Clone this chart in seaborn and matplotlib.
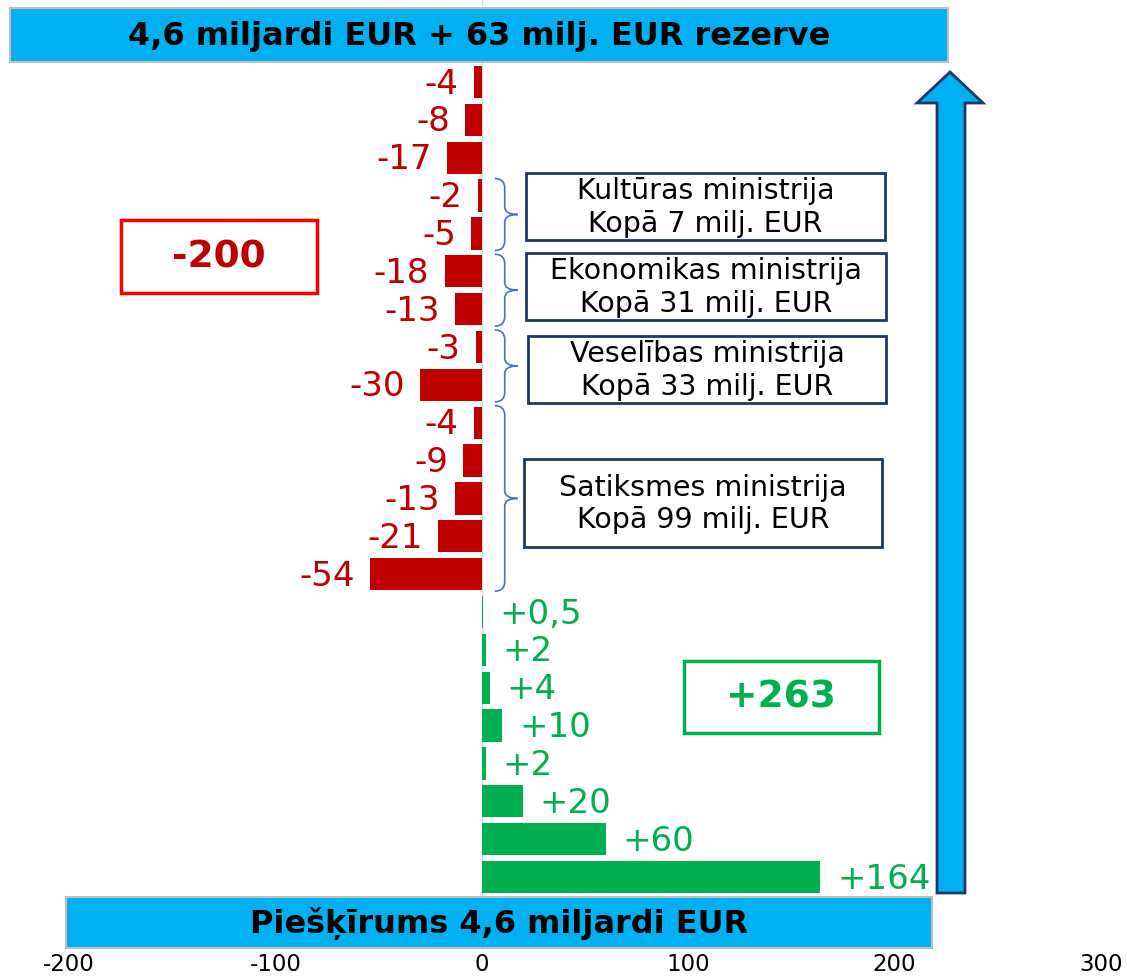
import numpy as np
import pandas as pd
import matplotlib
matplotlib.use("Agg")
import matplotlib.pyplot as plt
import seaborn as sns
from matplotlib.patches import Rectangle, Polygon, PathPatch
from matplotlib.path import Path
from matplotlib.transforms import Affine2D

sns.set_style("white")
plt.rcParams["font.family"] = ["DejaVu Sans"]
plt.rcParams["text.color"] = "black"
plt.rcParams["xtick.color"] = "black"

# =========================
# DATA
# =========================
values = [-4, -8, -17, -2, -5, -18, -13, -3, -30, -4, -9, -13, -21, -54,
          0.5, 2, 4, 10, 2, 20, 60, 164]
labels = ["-4", "-8", "-17", "-2", "-5", "-18", "-13", "-3", "-30", "-4", "-9",
          "-13", "-21", "-54", "+0,5", "+2", "+4", "+10", "+2", "+20", "+60", "+164"]
x_ticks = [-200, -100, 0, 100, 200, 300]

groups = [("Kultūras ministrija\nKopā 7 milj. EUR", 3, 4),
          ("Ekonomikas ministrija\nKopā 31 milj. EUR", 5, 6),
          ("Veselības ministrija\nKopā 33 milj. EUR", 7, 8),
          ("Satiksmes ministrija\nKopā 99 milj. EUR", 9, 13)]

top_title = "4,6 miljardi EUR + 63 milj. EUR rezerve"
bottom_title = "Piešķīrums 4,6 miljardi EUR"
total_neg = "-200"
total_pos = "+263"

RED = "#C00000"
GREEN = "#00B050"
BLUE = "#00B0F0"
NAVY = "#1F3864"

df = pd.DataFrame({
    "item": [str(i) for i in range(len(values))],
    "value": values,
    "sign": ["neg" if v < 0 else "pos" for v in values],
})

# =========================
# FIGURE
# =========================
W, H = 1127, 976
fig = plt.figure(figsize=(W / 100, H / 100), dpi=100)
ax = fig.add_axes([69 / W, 1 - 950 / H, (1101 - 69) / W, 950 / H])

# pixel coords from the top-left corner of the figure
px = Affine2D().scale(1 / W, -1 / H).translate(0, 1) + fig.transFigure

sns.barplot(data=df, x="value", y="item", hue="sign",
            palette={"neg": RED, "pos": GREEN}, dodge=False,
            width=0.85, legend=False, ax=ax, saturation=1, linewidth=0)

ax.set_xlim(-200, 300)
step = (877 - 82) / 21
ax.set_ylim((950 - 82) / step, -82 / step)
ax.set_xticks(x_ticks)
ax.set_xticklabels([str(t) for t in x_ticks], fontsize=16.5)
ax.set_yticks([])
ax.set_xlabel("")
ax.set_ylabel("")
ax.tick_params(axis="x", length=0, pad=2.5)
for s in ax.spines.values():
    s.set_visible(False)
ax.axvline(0, color="#D9D9D9", lw=1, zorder=0)

# value labels
for i, (v, lab) in enumerate(zip(values, labels)):
    if v < 0:
        ax.annotate(lab, (v, i), xytext=(-11, -1.5), textcoords="offset points",
                    ha="right", va="center", color=RED, fontsize=24.5)
    else:
        ax.annotate(lab, (v, i), xytext=(12, -1.5), textcoords="offset points",
                    ha="left", va="center", color=GREEN, fontsize=24.5)

# braces for ministry groups
for name, i0, i1 in groups:
    top = i0 - 0.45
    bot = i1 + 0.45
    mid = (top + bot) / 2
    x0, x1, x2 = 6.3, 11.1, 17.4
    verts = [(x0, top), (x1, top), (x1, top + 0.25),
             (x1, mid - 0.2), (x1, mid), (x2, mid),
             (x1, mid), (x1, mid + 0.2),
             (x1, bot - 0.25), (x1, bot), (x0, bot)]
    codes = [Path.MOVETO, Path.CURVE3, Path.CURVE3,
             Path.LINETO, Path.CURVE3, Path.CURVE3,
             Path.CURVE3, Path.CURVE3,
             Path.LINETO, Path.CURVE3, Path.CURVE3]
    ax.add_patch(PathPatch(Path(verts, codes), fill=False, ec="#4472C4", lw=1.2))

# ministry boxes (pixel coords)
boxes = [(526, 173, 885, 240), (526, 253, 886, 320),
         (528, 336, 886, 403), (524, 459, 882, 547)]
for (name, _, _), (l, t, r, b) in zip(groups, boxes):
    fig.patches.append(Rectangle((l, t), r - l, b - t, transform=px,
                                 fc="white", ec=NAVY, lw=2))
    fig.text((l + r) / 2, (t + b) / 2 + 1, name, transform=px, ha="center",
             va="center", fontsize=20.5, linespacing=1.2)

# total boxes
fig.patches.append(Rectangle((121, 220), 196, 73, transform=px,
                             fc="white", ec="#FF0000", lw=2.5))
fig.text(219, 257, total_neg, transform=px, ha="center", va="center",
         fontsize=27, fontweight="bold", color=RED)
fig.patches.append(Rectangle((684, 661), 195, 72, transform=px,
                             fc="white", ec=GREEN, lw=2.5))
fig.text(781, 698, total_pos, transform=px, ha="center", va="center",
         fontsize=27, fontweight="bold", color=GREEN)

# banners
fig.patches.append(Rectangle((10, 8), 938, 54, transform=px,
                             fc=BLUE, ec="#BFBFBF", lw=1.5))
fig.text(479, 36, top_title, transform=px, ha="center", va="center",
         fontsize=23, fontweight="bold")
fig.patches.append(Rectangle((66, 897), 866, 51, transform=px,
                             fc=BLUE, ec="#BFBFBF", lw=1.5))
fig.text(499, 923, bottom_title, transform=px, ha="center", va="center",
         fontsize=23, fontweight="bold")

# arrow
arrow = [(937, 893), (965, 893), (965, 103), (983, 103), (950, 72),
         (917, 103), (937, 103)]
fig.patches.append(Polygon(arrow, closed=True, transform=px,
                           fc=BLUE, ec=NAVY, lw=2))

fig.savefig("out.png", dpi=100)
